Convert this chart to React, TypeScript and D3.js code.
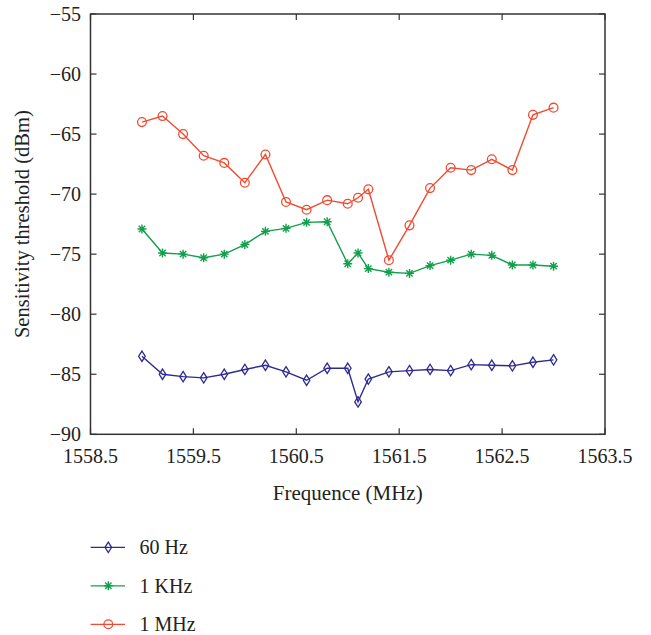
import React from "react";
import * as d3 from "d3";

const freqs = [1559.0, 1559.2, 1559.4, 1559.6, 1559.8, 1560.0, 1560.2, 1560.4, 1560.6, 1560.8, 1561.0, 1561.1, 1561.2, 1561.4, 1561.6, 1561.8, 1562.0, 1562.2, 1562.4, 1562.6, 1562.8, 1563.0];
const hz60 = [-83.5, -85.0, -85.2, -85.3, -85.0, -84.6, -84.25, -84.8, -85.5, -84.5, -84.5, -87.3, -85.4, -84.8, -84.7, -84.6, -84.7, -84.2, -84.25, -84.3, -84.0, -83.8];
const khz1 = [-72.9, -74.9, -75.0, -75.3, -75.0, -74.2, -73.1, -72.85, -72.35, -72.3, -75.8, -74.9, -76.2, -76.5, -76.6, -75.95, -75.5, -75.0, -75.1, -75.9, -75.9, -76.0];
const mhz1 = [-64.0, -63.5, -65.0, -66.8, -67.4, -69.05, -66.7, -70.65, -71.3, -70.5, -70.8, -70.3, -69.6, -75.5, -72.6, -69.5, -67.8, -68.0, -67.1, -68.0, -63.4, -62.8];
const xTicks = [1558.5, 1559.5, 1560.5, 1561.5, 1562.5, 1563.5];
const yTicks = [-55, -60, -65, -70, -75, -80, -85, -90];
const seriesNames = ["60 Hz", "1 KHz", "1 MHz"];
const seriesColors = ["#2f2b92", "#12a04c", "#f04b32"];
const seriesMarkers = ["diamond", "star", "circle"];

const W = 651, H = 635;
const L = 90.5, R = 605, T = 14, B = 434.3;
const FONT = "'Liberation Serif', 'DejaVu Serif', serif";

function Marker({ kind, x, y, color }: { kind: string; x: number; y: number; color: string }) {
  if (kind === "diamond") {
    return <path d={`M${x},${y - 5.2}L${x + 3.3},${y}L${x},${y + 5.2}L${x - 3.3},${y}Z`} fill="none" stroke={color} strokeWidth={1.3} />;
  }
  if (kind === "circle") {
    return <circle cx={x} cy={y} r={4.4} fill="none" stroke={color} strokeWidth={1.3} />;
  }
  const r = 4.5, d = r * 0.707;
  return (
    <path
      d={`M${x - r},${y}L${x + r},${y}M${x},${y - r}L${x},${y + r}M${x - d},${y - d}L${x + d},${y + d}M${x - d},${y + d}L${x + d},${y - d}`}
      stroke={color}
      strokeWidth={1.4}
    />
  );
}

export default function App() {
  const x = d3.scaleLinear().domain([1558.5, 1563.5]).range([L, R]);
  const y = d3.scaleLinear().domain([-90, -55]).range([B, T]);
  const series = [hz60, khz1, mhz1];
  const line = d3
    .line<[number, number]>()
    .x((d) => x(d[0]))
    .y((d) => y(d[1]));
  const tl = 6;
  const minus = (v: number) => (v < 0 ? "\u2212" + Math.abs(v) : String(v));
  return (
    <svg width={W} height={H} style={{ position: "absolute", left: 0, top: 0, background: "#fff" }} fontFamily={FONT}>
      <rect x={0} y={0} width={W} height={H} fill="#fff" />
      {xTicks.map((t) => (
        <g key={"xt" + t}>
          <line x1={x(t)} x2={x(t)} y1={B} y2={B - tl} stroke="#333" strokeWidth={1.2} />
          <line x1={x(t)} x2={x(t)} y1={T} y2={T + tl} stroke="#333" strokeWidth={1.2} />
          <text x={x(t)} y={463} textAnchor="middle" fontSize={20} fill="#222">
            {t.toFixed(1)}
          </text>
        </g>
      ))}
      {yTicks.map((t) => (
        <g key={"yt" + t}>
          <line x1={L} x2={L + tl} y1={y(t)} y2={y(t)} stroke="#333" strokeWidth={1.2} />
          <line x1={R} x2={R - tl} y1={y(t)} y2={y(t)} stroke="#333" strokeWidth={1.2} />
          <text x={81} y={y(t) + 6.5} textAnchor="end" fontSize={20} fill="#222">
            {minus(t)}
          </text>
        </g>
      ))}
      <rect x={L} y={T} width={R - L} height={B - T} fill="none" stroke="#333" strokeWidth={1.5} />
      {series.map((vals, i) => {
        const pts: [number, number][] = freqs.map((f, j) => [f, vals[j]]);
        return (
          <g key={"s" + i}>
            <path d={line(pts) || ""} fill="none" stroke={seriesColors[i]} strokeWidth={1.4} />
            {pts.map((p, j) => (
              <Marker key={j} kind={seriesMarkers[i]} x={x(p[0])} y={y(p[1])} color={seriesColors[i]} />
            ))}
          </g>
        );
      })}
      <text x={(L + R) / 2} y={500} textAnchor="middle" fontSize={21} fill="#222">
        Frequence (MHz)
      </text>
      <text transform={`translate(29,${(T + B) / 2}) rotate(-90)`} textAnchor="middle" fontSize={20.5} fill="#222">
        Sensitivity threshold (dBm)
      </text>
      {seriesNames.map((n, i) => {
        const ly = 547.3 + i * 38.5;
        return (
          <g key={"lg" + i}>
            <line x1={90.7} x2={125} y1={ly} y2={ly} stroke={seriesColors[i]} strokeWidth={1.3} />
            <Marker kind={seriesMarkers[i]} x={108.3} y={ly} color={seriesColors[i]} />
            <text x={139.5} y={ly + 7} fontSize={20} fill="#222">
              {n}
            </text>
          </g>
        );
      })}
    </svg>
  );
}
